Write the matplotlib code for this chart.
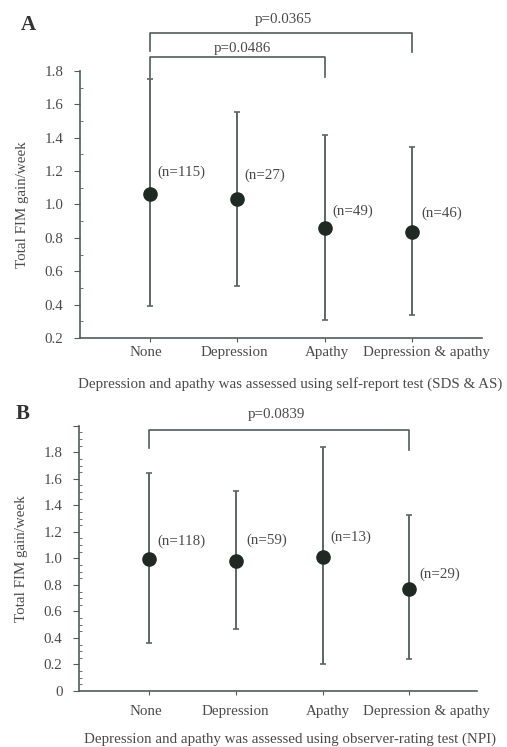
import matplotlib
matplotlib.use("Agg")
import matplotlib.pyplot as plt
from matplotlib.ticker import MultipleLocator

categories = ["None", "Depression", "Apathy", "Depression & apathy"]

# Panel A (self-report test)
a_means = [1.065, 1.03, 0.86, 0.833]
a_upper = [1.75, 1.555, 1.415, 1.345]
a_lower = [0.39, 0.51, 0.305, 0.34]
a_n = ["(n=115)", "(n=27)", "(n=49)", "(n=46)"]
a_xlabel = "Depression and apathy was assessed using self-report test (SDS & AS)"
a_pvals = ["p=0.0365", "p=0.0486"]

# Panel B (observer-rating test)
b_means = [0.993, 0.98, 1.01, 0.77]
b_upper = [1.642, 1.508, 1.838, 1.327]
b_lower = [0.364, 0.47, 0.204, 0.239]
b_n = ["(n=118)", "(n=59)", "(n=13)", "(n=29)"]
b_xlabel = "Depression and apathy was assessed using observer-rating test (NPI)"
b_pvals = ["p=0.0839"]

plt.rcParams['font.family'] = ['Liberation Serif', 'DejaVu Serif']
TXT = "#4a4a4a"
AX = "#4f5d58"
MK = "#1f2a25"
ERR = "#5c6662"
FS = 10.8

fig = plt.figure(figsize=(5.07, 7.47), dpi=100)
axA = fig.add_axes([0.158, 0.5475, 0.793, 0.3575])
axB = fig.add_axes([0.156, 0.075, 0.785, 0.355])

xs = [1, 2, 3, 4]

def draw(ax, means, upper, lower, nlabels, xlabel, offsets, label_shift, label_drop):
    yerr = [[m - l for m, l in zip(means, lower)], [u - m for m, u in zip(means, upper)]]
    ax.errorbar(xs, means, yerr=yerr, fmt='o', color=MK, ms=9.5, ecolor=ERR,
                elinewidth=1.4, capsize=2.5, capthick=1.2, zorder=3)
    for x, m, t, (dx, dy) in zip(xs, means, nlabels, offsets):
        ax.annotate(t, (x, m), xytext=(dx, dy), textcoords='offset pixels',
                    fontsize=FS, color=TXT, ha='left', va='center')
    for s in ['top', 'right']:
        ax.spines[s].set_visible(False)
    for s in ['left', 'bottom']:
        ax.spines[s].set_color(AX)
        ax.spines[s].set_linewidth(1.2)
    ax.set_xticks(xs)
    ax.set_xticklabels([])
    for x, c, sh in zip(xs, categories, label_shift):
        ax.annotate(c, (x, 0), xycoords=ax.get_xaxis_transform(),
                    xytext=(sh, -label_drop), textcoords='offset pixels',
                    ha='center', va='center', fontsize=FS, color=TXT,
                    annotation_clip=False)
    ax.tick_params(axis='x', length=3, color=AX)
    ax.tick_params(axis='y', which='major', length=4, color=AX, labelsize=FS, labelcolor=TXT, pad=8)
    ax.tick_params(axis='y', which='minor', length=2.5, direction='in', color=AX)
    ax.set_ylabel("Total FIM gain/week", fontsize=FS, color=TXT, labelpad=11)
    ax.set_xlabel(xlabel, fontsize=FS, color=TXT)

def bracket(ax, x1, x2, y, yl, yr, text, tx, ty):
    ax.plot([x1, x1, x2, x2], [yl, y, y, yr], color=AX, lw=1.2, clip_on=False)
    ax.text(tx, ty, text, fontsize=FS, color=TXT, ha='center', va='center')

# Panel A
draw(axA, a_means, a_upper, a_lower, a_n, a_xlabel,
     [(7, 21), (7, 24), (8, 17), (9, 19)], [-4, -3, 2, 14], 14)
axA.set_xlim(0.2, 4.8)
axA.set_ylim(0.2, 1.8)
axA.set_yticks([0.2, 0.4, 0.6, 0.8, 1.0, 1.2, 1.4, 1.6, 1.8])
axA.set_yticklabels(["0.2", "0.4", "0.6", "0.8", "1.0", "1.2", "1.4", "1.6", "1.8"])
axA.yaxis.set_minor_locator(MultipleLocator(0.1))
axA.xaxis.set_label_coords(0.522, -0.148)
bracket(axA, 1, 4, 2.026, 1.92, 1.912, a_pvals[0], 2.53, 2.11)
bracket(axA, 1, 3, 1.884, 1.758, 1.764, a_pvals[1], 2.06, 1.935)
axA.text(-0.147, 1.172, "A", transform=axA.transAxes, fontsize=15,
         fontweight='bold', color="#333333", ha='left', va='center')

# Panel B
draw(axB, b_means, b_upper, b_lower, b_n, b_xlabel,
     [(8, 18), (10, 21), (8, 20), (10, 15)], [-3, -1, 5, 17], 21)
axB.set_xlim(0.19, 4.78)
axB.set_ylim(0, 2.0)
axB.set_yticks([0, 0.2, 0.4, 0.6, 0.8, 1.0, 1.2, 1.4, 1.6, 1.8, 2.0])
axB.set_yticklabels(["0", "0.2", "0.4", "0.6", "0.8", "1.0", "1.2", "1.4", "1.6", "1.8", ""])
axB.yaxis.set_minor_locator(MultipleLocator(0.05))
axB.xaxis.set_label_coords(0.530, -0.156)
bracket(axB, 1, 4, 1.968, 1.833, 1.817, b_pvals[0], 2.47, 2.085)
axB.text(-0.16, 1.045, "B", transform=axB.transAxes, fontsize=15,
         fontweight='bold', color="#333333", ha='left', va='center')

fig.savefig("out.png", dpi=100)
